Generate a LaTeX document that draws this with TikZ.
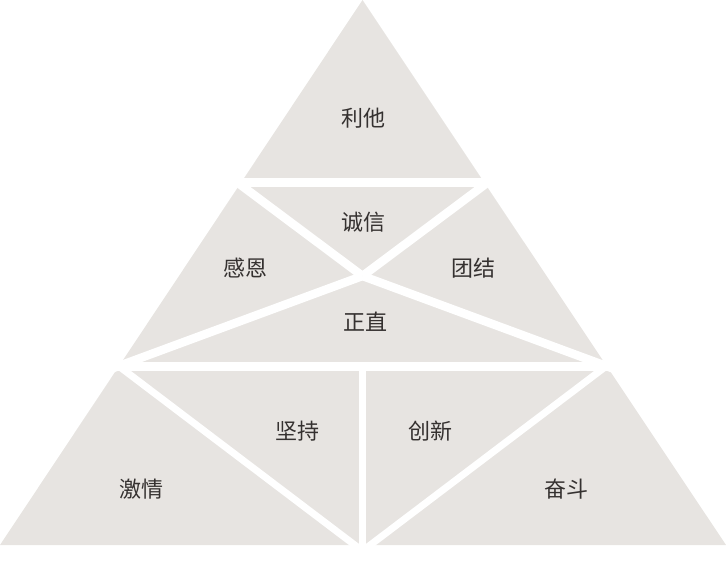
\documentclass[tikz,border=0pt]{standalone}
\usepackage{fontspec}
\newfontfamily\cjk{Noto Sans CJK SC}
\definecolor{piece}{HTML}{E7E4E1}
\definecolor{ink}{HTML}{353130}
\begin{document}
\begin{tikzpicture}[x=1pt,y=-1pt,
  gap/.style={draw=white,line width=8.5pt,line cap=butt},
  lbl/.style={font=\cjk\fontsize{22}{22}\selectfont,text=ink,inner sep=0pt}]
\useasboundingbox (0,0) rectangle (727,569);
\coordinate (apex) at (362.5,0);
\coordinate (bl) at (0,545);
\coordinate (br) at (726,545);
\fill[piece] (apex) -- (br) -- (bl) -- cycle;
% tier gaps
\coordinate (t1l) at (200,182.5);
\coordinate (t1r) at (527,182.5);
\coordinate (t2l) at (90,366.5);
\coordinate (t2r) at (637,366.5);
\draw[gap] (t1l) -- (t1r);
\draw[gap] (t2l) -- (t2r);
% middle tier
\coordinate (c) at (362.5,276);
\coordinate (ml) at (230,177);
\coordinate (mr) at (495,177);
\coordinate (ll) at (108,370);
\coordinate (lr) at (617,370);
\draw[gap] (ml) -- (c);
\draw[gap] (mr) -- (c);
\draw[gap] (ll) -- (c);
\draw[gap] (lr) -- (c);
% bottom tier
\coordinate (vt) at (362.5,366);
\coordinate (vb) at (362.5,560);
\draw[gap,line width=7pt] (vt) -- (vb);
\coordinate (dl1) at (112,361);
\coordinate (dl2) at (360,549);
\coordinate (dr1) at (613,361);
\coordinate (dr2) at (365,549);
\draw[gap,line width=7pt] (dl1) -- (dl2);
\draw[gap,line width=7pt] (dr1) -- (dr2);
% labels
\node[lbl] (lita) at (363,118) {利他};
\node[lbl] (chengxin) at (363,222) {诚信};
\node[lbl] (ganen) at (245,268) {感恩};
\node[lbl] (tuanjie) at (473,268) {团结};
\node[lbl] (zhengzhi) at (365,322) {正直};
\node[lbl] (jianchi) at (297,431) {坚持};
\node[lbl] (chuangxin) at (430,431) {创新};
\node[lbl] (jiqing) at (141,489) {激情};
\node[lbl] (fendou) at (566,489) {奋斗};
\end{tikzpicture}
\end{document}
